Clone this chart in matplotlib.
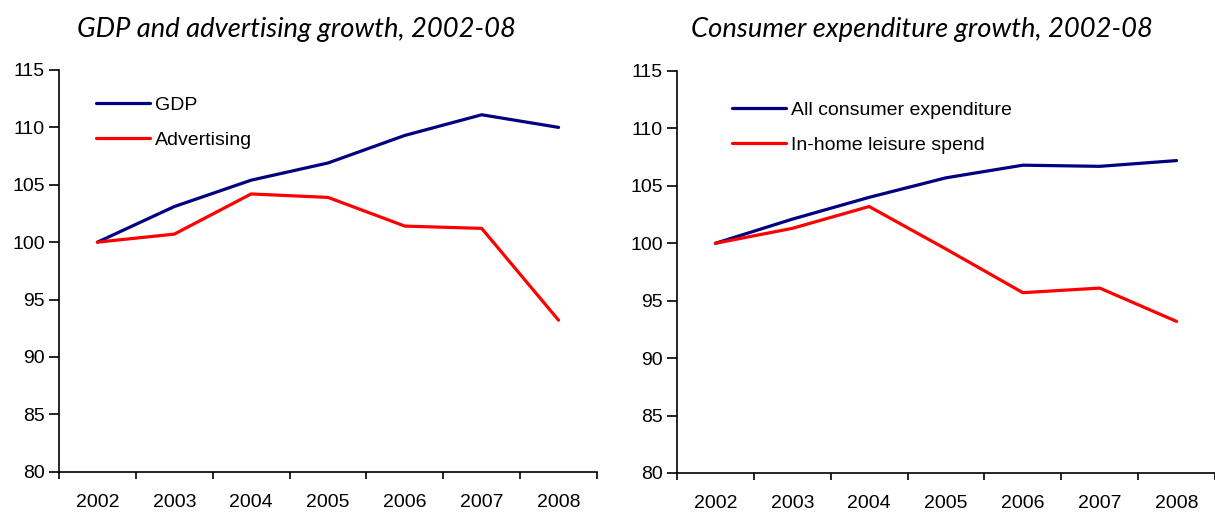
import matplotlib
matplotlib.use("Agg")
import matplotlib.pyplot as plt
from matplotlib.ticker import FixedLocator, NullFormatter

# data
years = ['2002', '2003', '2004', '2005', '2006', '2007', '2008']
gdp = [100, 103.1, 105.4, 106.9, 109.3, 111.1, 110.0]
advertising = [100, 100.7, 104.2, 103.9, 101.4, 101.2, 93.2]
consumer_all = [100, 102.1, 104.0, 105.7, 106.8, 106.7, 107.2]
inhome_leisure = [100, 101.3, 103.2, 99.5, 95.7, 96.1, 93.2]

left_title = 'GDP and advertising growth, 2002-08'
right_title = 'Consumer expenditure growth, 2002-08'

NAVY = '#000080'
RED = '#FF0000'
plt.rcParams['font.family'] = ['Liberation Sans', 'DejaVu Sans']

fig = plt.figure(figsize=(12.15, 5.13), dpi=100)
ax1 = fig.add_axes([59 / 1215, 1 - 471.7 / 513, 538 / 1215, 401.7 / 513])
ax2 = fig.add_axes([677 / 1215, 1 - 473 / 513, 538 / 1215, 402 / 513])


def draw_panel(ax, s1, s2, lab1, lab2, leg_x, leg_y):
    x = range(len(years))
    ax.plot(x, s1, color=NAVY, lw=2.3, label=lab1, solid_capstyle='round')
    ax.plot(x, s2, color=RED, lw=2.3, label=lab2, solid_capstyle='round')
    ax.set_xlim(-0.5, len(years) - 0.5)
    ax.set_ylim(80, 115)
    ax.set_yticks(range(80, 116, 5))
    # category ticks sit between the years, labels centred under them
    ax.xaxis.set_major_locator(FixedLocator([i - 0.5 for i in range(len(years) + 1)]))
    ax.xaxis.set_major_formatter(NullFormatter())
    ax.set_xticks(list(x), minor=True)
    ax.set_xticklabels(years, minor=True)
    ax.tick_params(axis='x', which='major', length=5, width=1.2, direction='out')
    ax.tick_params(axis='x', which='minor', length=0, pad=16, labelsize=14)
    ax.tick_params(axis='y', length=7, width=1.2, direction='out', labelsize=14, pad=3)
    for side in ['top', 'right']:
        ax.spines[side].set_visible(False)
    for side in ['left', 'bottom']:
        ax.spines[side].set_linewidth(1.2)
    ax.legend(loc='upper left', bbox_to_anchor=(leg_x, leg_y), frameon=False,
              fontsize=14, handlelength=2.8, handletextpad=0.25,
              labelspacing=0.9, borderaxespad=0, borderpad=0)


draw_panel(ax1, gdp, advertising, 'GDP', 'Advertising', 0.068, 0.935)
draw_panel(ax2, consumer_all, inhome_leisure, 'All consumer expenditure',
           'In-home leisure spend', 0.102, 0.925)

fig.text(296 / 1215, 1 - 37 / 513, left_title, ha='center', va='baseline',
         fontsize=19.7, style='italic', family=['Lato', 'DejaVu Sans'])
fig.text(922 / 1215, 1 - 37 / 513, right_title, ha='center', va='baseline',
         fontsize=19.7, style='italic', family=['Lato', 'DejaVu Sans'])

fig.savefig('out.png', dpi=100)
